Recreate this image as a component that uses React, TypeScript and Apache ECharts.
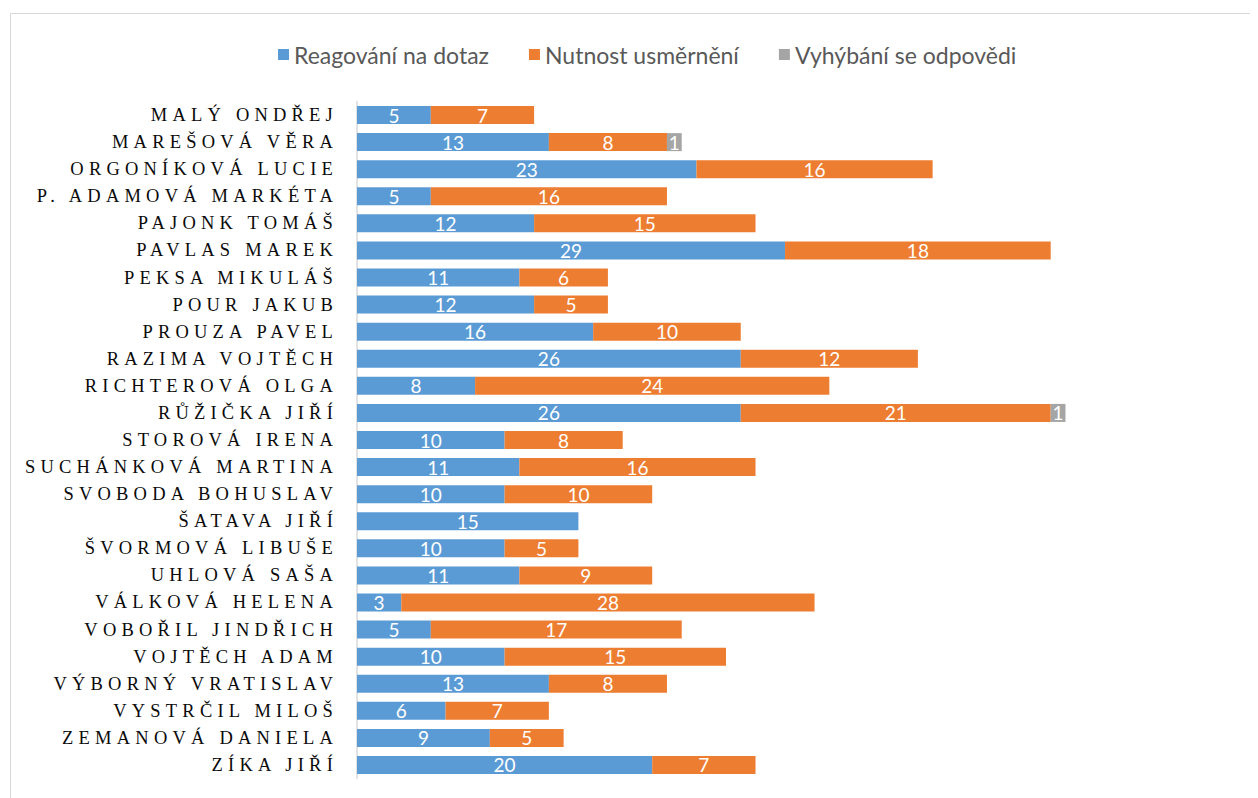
import React, { useEffect, useRef } from "react";
import * as echarts from "echarts";

const categories = [
  "MALÝ ONDŘEJ",
  "MAREŠOVÁ VĚRA",
  "ORGONÍKOVÁ LUCIE",
  "P. ADAMOVÁ MARKÉTA",
  "PAJONK TOMÁŠ",
  "PAVLAS MAREK",
  "PEKSA MIKULÁŠ",
  "POUR JAKUB",
  "PROUZA PAVEL",
  "RAZIMA VOJTĚCH",
  "RICHTEROVÁ OLGA",
  "RŮŽIČKA JIŘÍ",
  "STOROVÁ IRENA",
  "SUCHÁNKOVÁ MARTINA",
  "SVOBODA BOHUSLAV",
  "ŠATAVA JIŘÍ",
  "ŠVORMOVÁ LIBUŠE",
  "UHLOVÁ SAŠA",
  "VÁLKOVÁ HELENA",
  "VOBOŘIL JINDŘICH",
  "VOJTĚCH ADAM",
  "VÝBORNÝ VRATISLAV",
  "VYSTRČIL MILOŠ",
  "ZEMANOVÁ DANIELA",
  "ZÍKA JIŘÍ",
];

const reagovani = [5, 13, 23, 5, 12, 29, 11, 12, 16, 26, 8, 26, 10, 11, 10, 15, 10, 11, 3, 5, 10, 13, 6, 9, 20];
const nutnost = [7, 8, 16, 16, 15, 18, 6, 5, 10, 12, 24, 21, 8, 16, 10, null, 5, 9, 28, 17, 15, 8, 7, 5, 7];
const vyhybani = [null, 1, null, null, null, null, null, null, null, null, null, 1, null, null, null, null, null, null, null, null, null, null, null, null, null];

const seriesNames = ["Reagování na dotaz", "Nutnost usměrnění", "Vyhýbání se odpovědi"];
const colors = ["#5b9bd5", "#ed7d31", "#a5a5a5"];

export default function App() {
  const ref = useRef<HTMLDivElement>(null);
  useEffect(() => {
    if (!ref.current) return;
    const chart = echarts.init(ref.current, null, { renderer: "svg" });
    const mk = (name: string, data: (number | null)[], color: string) => ({
      name,
      type: "bar",
      stack: "total",
      data,
      barWidth: 18,
      itemStyle: { color },
      label: {
        show: true,
        position: "inside",
        color: "#ffffff",
        fontFamily: "Lato",
        fontSize: 19,
        formatter: (p: any) => (p.value == null ? "" : String(p.value)),
      },
    });
    chart.setOption({
      animation: false,
      graphic: [
        {
          type: "rect",
          left: 0,
          top: 3,
          shape: { x: 0, y: 0, width: 1400, height: 900 },
          style: { fill: "none", stroke: "#d9d9d9", lineWidth: 1 },
          silent: true,
        },
      ],
      legend: {
        top: 30,
        left: 265,
        itemWidth: 11,
        itemHeight: 11,
        itemGap: 40,
        icon: "rect",
        textStyle: { color: "#595959", fontFamily: "Lato", fontSize: 23 },
        data: seriesNames,
      },
      grid: { left: 349, right: 15.4, top: 93.5, bottom: 19.5, containLabel: false },
      xAxis: {
        type: "value",
        min: 0,
        max: 60,
        show: false,
        splitLine: { show: false },
      },
      yAxis: {
        type: "category",
        inverse: true,
        data: categories,
        axisLine: { show: true, lineStyle: { color: "#d9d9d9", width: 1.5 } },
        axisTick: { show: false },
        axisLabel: {
          color: "#0a0a0a",
          fontFamily: "Liberation Serif",
          fontSize: 18.5,
          margin: 19,
        },
      },
      series: [
        mk(seriesNames[0], reagovani, colors[0]),
        mk(seriesNames[1], nutnost, colors[1]),
        mk(seriesNames[2], vyhybani, colors[2]),
      ],
    });
    return () => chart.dispose();
  }, []);
  return (
    <>
      <style>{`text[fill="#0a0a0a"], text[style*="0a0a0a"] { letter-spacing: 5.2px; }`}</style>
      <div ref={ref} style={{ width: 1250, height: 790 }} />
    </>
  );
}
